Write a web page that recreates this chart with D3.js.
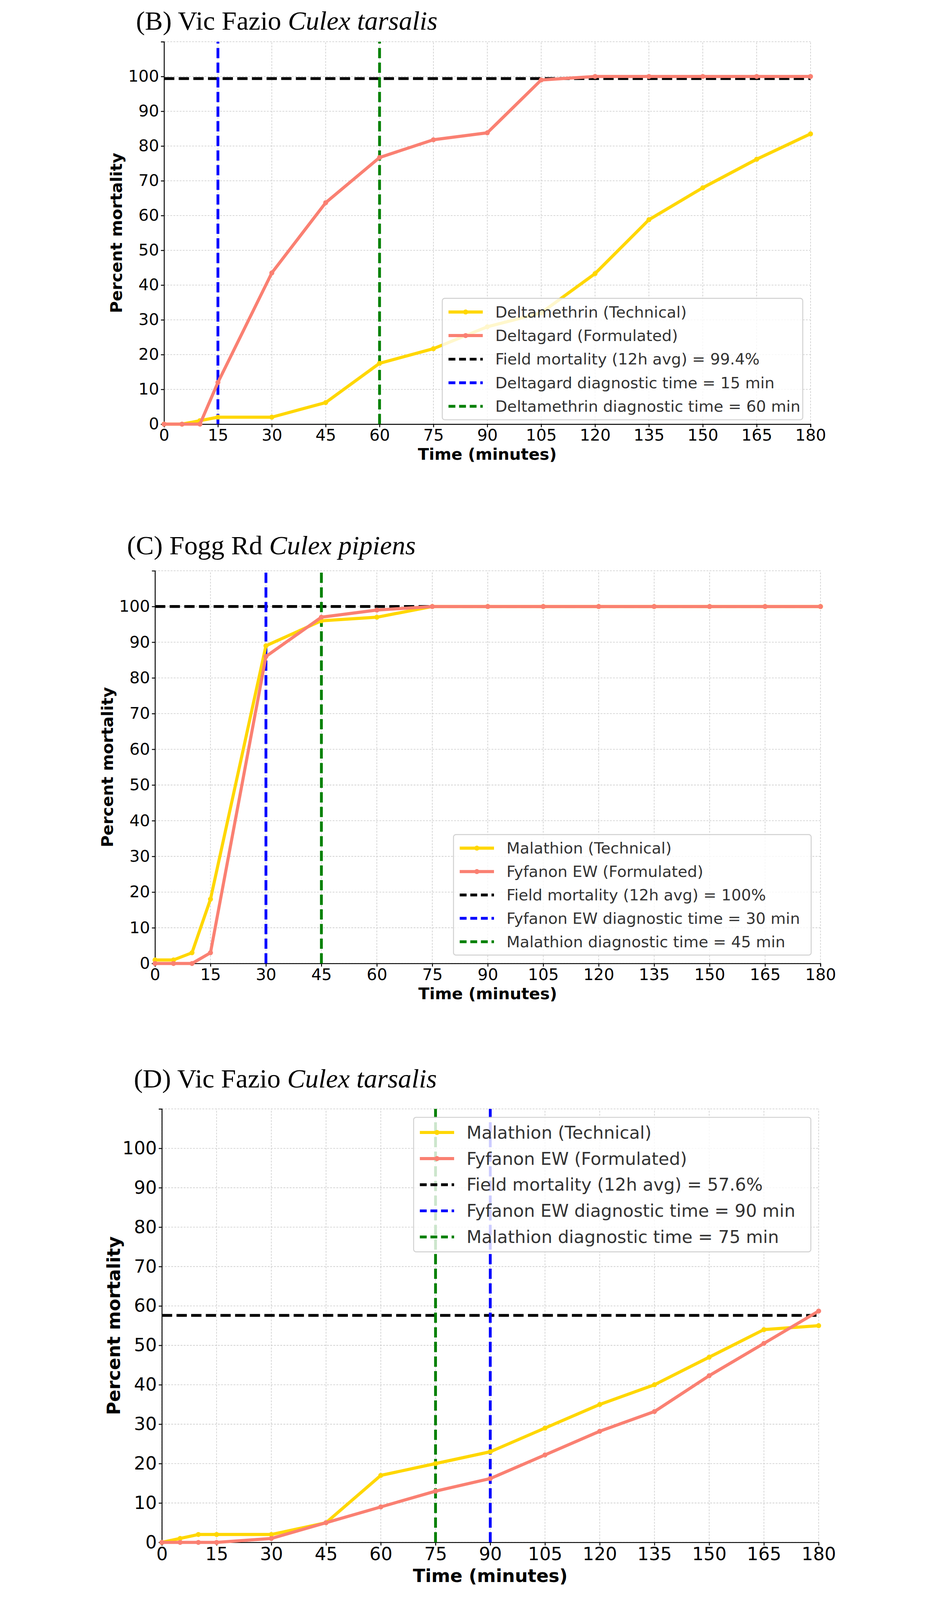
<!DOCTYPE html>
<html><head><meta charset="utf-8">
<script src="https://cdn.jsdelivr.net/npm/d3@7"></script>
<style>html,body{margin:0;padding:0;background:#fff;overflow:hidden}svg{display:block;width:100vw;height:100vh}</style>
</head><body>
<svg id="fig" viewBox="0 0 2418 5138" preserveAspectRatio="xMidYMin meet"></svg>
<script>
// time points (minutes)
var times = [0, 5, 10, 15, 30, 45, 60, 75, 90, 105, 120, 135, 150, 165, 180];
var xTicks = [0, 15, 30, 45, 60, 75, 90, 105, 120, 135, 150, 165, 180];
var yTicks = [0, 10, 20, 30, 40, 50, 60, 70, 80, 90, 100];

// (B) Vic Fazio, Culex tarsalis – pyrethroids
var bTechnical = [0, 0, 1, 2, 2, 6.2, 17.5, 21.7, 28, 32, 43.3, 58.8, 68, 76.2, 83.5];
var bFormulated = [0, 0, 0, 12, 43.5, 63.7, 76.7, 81.8, 83.8, 99, 100, 100, 100, 100, 100];
var bLabels = ["Deltamethrin (Technical)", "Deltagard (Formulated)", "Field mortality (12h avg) = 99.4%",
  "Deltagard diagnostic time = 15 min", "Deltamethrin diagnostic time = 60 min"];

// (C) Fogg Rd, Culex pipiens – organophosphates
var cTechnical = [1, 1, 3, 18, 89, 96, 97, 100, 100, 100, 100, 100, 100, 100, 100];
var cFormulated = [0, 0, 0, 3, 86, 97, 99, 100, 100, 100, 100, 100, 100, 100, 100];
var cLabels = ["Malathion (Technical)", "Fyfanon EW (Formulated)", "Field mortality (12h avg) = 100%",
  "Fyfanon EW diagnostic time = 30 min", "Malathion diagnostic time = 45 min"];

// (D) Vic Fazio, Culex tarsalis – organophosphates
var dTechnical = [0, 1, 2, 2, 2, 5, 17, 20, 23, 29, 35, 40, 47, 54, 55];
var dFormulated = [0, 0, 0, 0, 1, 5, 9, 13, 16.2, 22.2, 28.2, 33.2, 42.3, 50.5, 58.7];
var dLabels = ["Malathion (Technical)", "Fyfanon EW (Formulated)", "Field mortality (12h avg) = 57.6%",
  "Fyfanon EW diagnostic time = 90 min", "Malathion diagnostic time = 75 min"];

var panels = [
  {tag: "(B) Vic Fazio ", sp: "Culex tarsalis", tech: bTechnical, form: bFormulated, field: 99.4, blue: 15, green: 60,
   labels: bLabels, x0: 219, x1: 2294, yTop: 134, y0: 1362, titleY: 95, tick: 52, legFont: 50,
   leg: {x: 1112, y: 958, w: 1157, h: 390}},
  {tag: "(C) Fogg Rd ", sp: "Culex pipiens", tech: cTechnical, form: cFormulated, field: 100, blue: 30, green: 45,
   labels: cLabels, x0: 190, x1: 2326, yTop: 1833, y0: 3094, titleY: 1780, tick: 52, legFont: 50,
   leg: {x: 1148, y: 2680, w: 1148, h: 387}},
  {tag: "(D) Vic Fazio ", sp: "Culex tarsalis", tech: dTechnical, form: dFormulated, field: 57.6, blue: 90, green: 75,
   labels: dLabels, x0: 212, x1: 2320, yTop: 3561, y0: 4953, titleY: 3492, tick: 58, legFont: 56,
   leg: {x: 1020, y: 3588, w: 1275, h: 432}}
];

var svg = d3.select("#fig");
var GOLD = "#FFD700", SALMON = "#FA8072";

panels.forEach(function(p) {
  var x = d3.scaleLinear().domain([0, 180]).range([p.x0, p.x1]);
  var y = d3.scaleLinear().domain([0, 110]).range([p.y0, p.yTop]);
  var g = svg.append("g");

  // title
  var t = g.append("text").attr("x", p.x0 - 90).attr("y", p.titleY)
    .style("font-family", "'Liberation Serif', serif").style("font-size", "86px");
  t.append("tspan").text(p.tag);
  t.append("tspan").style("font-style", "italic").text(p.sp);

  // grid
  g.append("g").selectAll("line").data(xTicks).join("line")
    .attr("x1", d => x(d)).attr("x2", d => x(d)).attr("y1", p.y0).attr("y2", p.yTop)
    .attr("stroke", "#cccccc").attr("stroke-width", 2).attr("stroke-dasharray", "6,4");
  g.append("g").selectAll("line").data(yTicks.concat([110])).join("line")
    .attr("x1", p.x0).attr("x2", p.x1).attr("y1", d => y(d)).attr("y2", d => y(d))
    .attr("stroke", "#cccccc").attr("stroke-width", 2).attr("stroke-dasharray", "6,4");

  // axes
  var xa = g.append("g").attr("transform", "translate(0," + p.y0 + ")")
    .call(d3.axisBottom(x).tickValues(xTicks).tickSize(10).tickPadding(6));
  var ya = g.append("g").attr("transform", "translate(" + p.x0 + ",0)")
    .call(d3.axisLeft(y).tickValues(yTicks).tickSize(10).tickPadding(6));
  [xa, ya].forEach(function(a) {
    a.select(".domain").attr("stroke", "#000").attr("stroke-width", 3);
    a.selectAll(".tick line").attr("stroke-width", 3);
    a.selectAll("text").style("font-family", "'DejaVu Sans', sans-serif").style("font-size", p.tick + "px").attr("fill", "#000");
  });

  g.append("text").attr("x", (p.x0 + p.x1) / 2).attr("y", p.y0 + p.tick * 2.2)
    .attr("text-anchor", "middle").style("font-family", "'DejaVu Sans', sans-serif")
    .style("font-weight", "bold").style("font-size", (p.tick) + "px").text("Time (minutes)");
  g.append("text").attr("transform", "translate(" + (p.x0 - 135) + "," + ((p.y0 + p.yTop) / 2) + ") rotate(-90)")
    .attr("text-anchor", "middle").style("font-family", "'DejaVu Sans', sans-serif")
    .style("font-weight", "bold").style("font-size", (p.tick) + "px").text("Percent mortality");

  // reference lines
  g.append("line").attr("x1", p.x0).attr("x2", p.x1).attr("y1", y(p.field)).attr("y2", y(p.field))
    .attr("stroke", "#000").attr("stroke-width", 9).attr("stroke-dasharray", "33,14");
  g.append("line").attr("x1", x(p.blue)).attr("x2", x(p.blue)).attr("y1", p.y0).attr("y2", p.yTop)
    .attr("stroke", "#0000ff").attr("stroke-width", 9).attr("stroke-dasharray", "33,14");
  g.append("line").attr("x1", x(p.green)).attr("x2", x(p.green)).attr("y1", p.y0).attr("y2", p.yTop)
    .attr("stroke", "#008000").attr("stroke-width", 9).attr("stroke-dasharray", "33,14");

  // series
  var line = d3.line().x((d, i) => x(times[i])).y(d => y(d));
  [[p.tech, GOLD], [p.form, SALMON]].forEach(function(s) {
    g.append("path").datum(s[0]).attr("d", line).attr("fill", "none")
      .attr("stroke", s[1]).attr("stroke-width", 10).attr("stroke-linejoin", "round");
    g.append("g").selectAll("circle").data(s[0]).join("circle")
      .attr("cx", (d, i) => x(times[i])).attr("cy", d => y(d)).attr("r", 8).attr("fill", s[1]);
  });

  // legend
  var L = p.leg;
  var lg = g.append("g").attr("transform", "translate(" + L.x + "," + L.y + ")");
  lg.append("rect").attr("width", L.w).attr("height", L.h).attr("rx", 8)
    .attr("fill", "white").attr("fill-opacity", 0.8).attr("stroke", "#d0d0d0").attr("stroke-width", 3);
  var styles = [[GOLD, null, true], [SALMON, null, true], ["#000", "22,12", false],
                ["#0000ff", "22,12", false], ["#008000", "22,12", false]];
  var step = L.h / 5.15;
  p.labels.forEach(function(lab, i) {
    var cy = step * (i + 0.58);
    lg.append("line").attr("x1", 20).attr("x2", 130).attr("y1", cy).attr("y2", cy)
      .attr("stroke", styles[i][0]).attr("stroke-width", styles[i][2] ? 10 : 9)
      .attr("stroke-dasharray", styles[i][1]);
    if (styles[i][2]) lg.append("circle").attr("cx", 75).attr("cy", cy).attr("r", 8).attr("fill", styles[i][0]);
    lg.append("text").attr("x", 170).attr("y", cy).attr("dy", "0.35em")
      .style("font-family", "'DejaVu Sans', sans-serif").style("font-size", p.legFont + "px")
      .attr("fill", "#333").text(lab);
  });
});
</script>
</body></html>
